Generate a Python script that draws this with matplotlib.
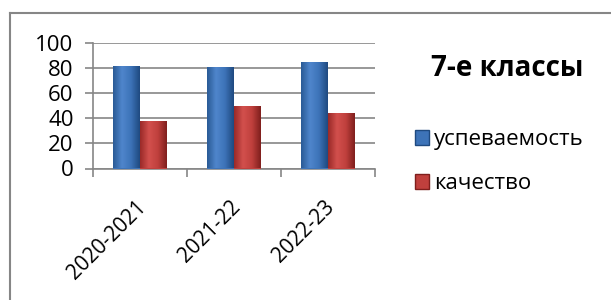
import matplotlib
matplotlib.use("Agg")
import matplotlib.pyplot as plt
import numpy as np
from matplotlib.colors import LinearSegmentedColormap
from matplotlib.patches import Rectangle
from matplotlib.lines import Line2D

categories = ["2020-2021", "2021-22", "2022-23"]
uspev = [82, 81, 85]
kachestvo = [38, 50, 44]
series_names = ["успеваемость", "качество"]
title = "7-е классы"

plt.rcParams['font.family'] = ['Open Sans', 'DejaVu Sans']

fig = plt.figure(figsize=(6.11, 3.0), dpi=100)
fig.patch.set_facecolor('white')
ax = fig.add_axes([93/611, 1-168.5/300, (375-93)/611, (168.5-43.3)/300])

x = np.arange(len(categories))
w = 0.287
gray = '#868686'

blue_cmap = LinearSegmentedColormap.from_list('b', ['#2a5a96', '#4f86cc', '#3d73b8', '#1f4a80'])
red_cmap = LinearSegmentedColormap.from_list('r', ['#9a2a28', '#d2504d', '#c0403d', '#7f1f1d'])

def draw(xs, vals, color, cmap):
    bars = ax.bar(xs, vals, w, color=color, edgecolor='none', zorder=3)
    grad = np.linspace(0, 1, 64).reshape(1, -1)
    for b in bars:
        x0, y0 = b.get_x(), b.get_y()
        bw, bh = b.get_width(), b.get_height()
        im = ax.imshow(grad, cmap=cmap, aspect='auto', extent=[x0, x0 + bw, y0, y0 + bh],
                       zorder=4, interpolation='bicubic')
        im.set_clip_path(b)
    return bars

draw(x - w/2, uspev, '#3d73b8', blue_cmap)
draw(x + w/2, kachestvo, '#c0403d', red_cmap)

ax.set_xlim(-0.5, len(categories) - 0.5)
ax.set_ylim(0, 100)
ax.set_yticks(range(0, 101, 20))
ax.yaxis.grid(True, color=gray, linewidth=1.2, zorder=0)
ax.set_axisbelow(True)
for s in ['top', 'right']:
    ax.spines[s].set_visible(False)
for s in ['left', 'bottom']:
    ax.spines[s].set_color(gray)
    ax.spines[s].set_linewidth(1.2)
ax.tick_params(axis='y', direction='out', length=6, width=1.2, color=gray, labelsize=16, pad=8)
ax.set_xticks(x)
ax.set_xticklabels(categories, rotation=45, ha='right', rotation_mode='anchor', fontsize=15)
ax.tick_params(axis='x', which='major', length=0, pad=20)
ax.set_xticks(np.arange(-0.5, len(categories)), minor=True)
ax.tick_params(axis='x', which='minor', direction='out', length=6, width=1.2, color=gray)
for lbl in ax.get_xticklabels():
    lbl.set_transform(lbl.get_transform() + matplotlib.transforms.ScaledTranslation(-4/100, 0, fig.dpi_scale_trans))

fig.text(507/611, 1-69/300, title, fontsize=20, fontweight='bold', ha='center', va='center')

handles = [Rectangle((0, 0), 1, 1, facecolor='#3d73b8', edgecolor='#1f4a80'),
           Rectangle((0, 0), 1, 1, facecolor='#c0403d', edgecolor='#7f1f1d')]
leg = fig.legend(handles, series_names, loc='upper left', bbox_to_anchor=(415/611, 1-129/300),
                 frameon=False, fontsize=16, handlelength=0.65, handleheight=0.65,
                 handletextpad=0.2, labelspacing=1.05, borderpad=0, borderaxespad=0)

fig.add_artist(Line2D([10/611, 10/611], [0, 1-13/300], transform=fig.transFigure, color=gray, linewidth=1.5))
fig.add_artist(Line2D([10/611, 1], [1-13/300, 1-13/300], transform=fig.transFigure, color=gray, linewidth=1.5))

fig.savefig('out.png', dpi=100, facecolor='white')
